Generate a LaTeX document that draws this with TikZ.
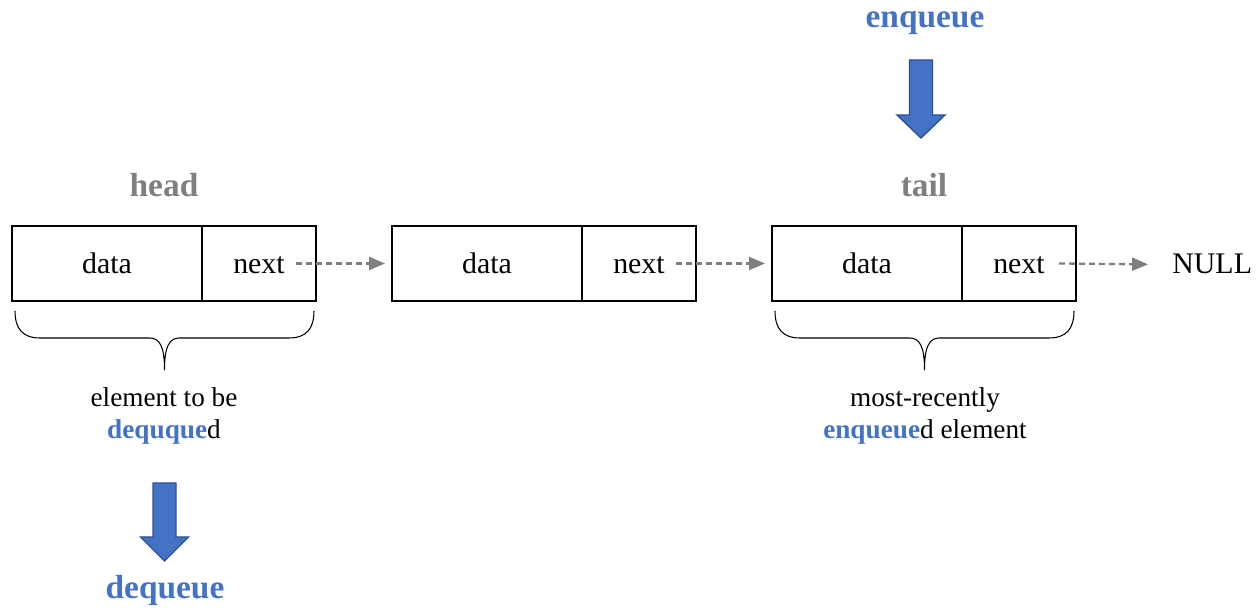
\documentclass[tikz,border=0pt]{standalone}
\usepackage{fontspec}
\setmainfont{Liberation Serif}
\usetikzlibrary{positioning,arrows.meta,calc}
\definecolor{qblue}{HTML}{4472C4}
\definecolor{qedge}{HTML}{2F528F}
\definecolor{qgray}{HTML}{7F7F7F}

% curly brace under a list element, from #1 to #2
\newcommand\groupbrace[2]{%
  \draw[bracket] let \p1=(#1), \p2=(#2), \n1={(\x1+\x2)/2} in
    (\p1) .. controls (\x1,\y1-0.35cm) and (\x1+0.15cm,\y1-0.54cm) .. (\x1+0.5cm,\y1-0.54cm)
    -- (\n1-0.3cm,\y1-0.54cm) .. controls (\n1-0.1cm,\y1-0.54cm) and (\n1,\y1-0.7cm) .. (\n1,\y1-1.18cm)
    .. controls (\n1,\y1-0.7cm) and (\n1+0.1cm,\y1-0.54cm) .. (\n1+0.3cm,\y1-0.54cm)
    -- (\x2-0.5cm,\y1-0.54cm) .. controls (\x2-0.15cm,\y1-0.54cm) and (\x2,\y1-0.35cm) .. (\p2);}

\begin{document}
\begin{tikzpicture}[node distance=1.52cm,
  cell/.style={draw,line width=0.8pt,minimum height=1.5cm,inner sep=0,outer sep=0,
    text height=0.41cm,text depth=0pt,font=\fontsize{17}{20}\selectfont},
  data cell/.style={cell,minimum width=3.8cm},
  next cell/.style={cell,minimum width=2.28cm},
  link/.style={qgray,line width=1.3pt,dash pattern=on 0.12cm off 0.08cm,-{Triangle[length=0.32cm,width=0.26cm]}},
  ptr/.style={qgray,font=\fontsize{19}{22}\selectfont\bfseries,anchor=base},
  op/.style={qblue,font=\fontsize{19}{22}\selectfont\bfseries,anchor=base},
  note/.style={align=center,font=\fontsize{15.5}{18}\selectfont},
  bracket/.style={line width=0.6pt},
  big arrow/.style={fill=qblue,draw=qedge,line width=0.8pt,line join=miter}]

          \useasboundingbox (0,0) rectangle (25.16,-12.22);

          \node[data cell] (d1) at (2.14,-5.27) {data};
          \node[next cell] (n1) [right=0pt of d1] {next};
          \node[data cell] (d2) [right=of n1] {data};
          \node[next cell] (n2) [right=0pt of d2] {next};
          \node[data cell] (d3) [right=of n2] {data};
          \node[next cell] (n3) [right=0pt of d3] {next};
          \node[inner sep=0,anchor=base west,font=\fontsize{17}{20}\selectfont] (null) at (23.44,-5.48) {NULL};

          \draw[link] ([xshift=-0.4cm]n1.east) -- ([xshift=-0.14cm]d2.west);
          \draw[link] ([xshift=-0.4cm]n2.east) -- ([xshift=-0.14cm]d3.west);
          \draw[link] ([xshift=-0.34cm]n3.east) -- ([xshift=-0.48cm]null.west);

          \node[ptr] (head) at (3.28,-3.93) {head};
          \node[ptr] (tail) at (18.48,-3.93) {tail};

          % enqueue side
          \node[op] (enq) at (18.5,-0.56) {enqueue};
          \draw[big arrow] (18.19,-1.2) -- (18.65,-1.2) -- (18.65,-2.3) -- (18.9,-2.3)
            -- (18.42,-2.76) -- (17.94,-2.3) -- (18.19,-2.3) -- cycle;

          % dequeue side
          \draw[big arrow] (3.06,-9.66) -- (3.52,-9.66) -- (3.52,-10.74) -- (3.77,-10.74)
            -- (3.29,-11.22) -- (2.81,-10.74) -- (3.06,-10.74) -- cycle;
          \node[op] (deq) at (3.3,-11.98) {dequeue};

          \coordinate (b1l) at ([xshift=0.06cm,yshift=-0.2cm]d1.south west);
          \coordinate (b1r) at ([xshift=-0.04cm,yshift=-0.2cm]n1.south east);
          \coordinate (b3l) at ([xshift=0.06cm,yshift=-0.2cm]d3.south west);
          \coordinate (b3r) at ([xshift=-0.04cm,yshift=-0.2cm]n3.south east);
          \groupbrace{b1l}{b1r}
          \groupbrace{b3l}{b3r}

          \node[note] (first) at (3.28,-8.32) {element to be\\{\color{qblue}\bfseries dequque}d};
          \node[note] (last) at (18.5,-8.32) {most-recently\\{\color{qblue}\bfseries enqueue}d element};
        \end{tikzpicture}
\end{document}
